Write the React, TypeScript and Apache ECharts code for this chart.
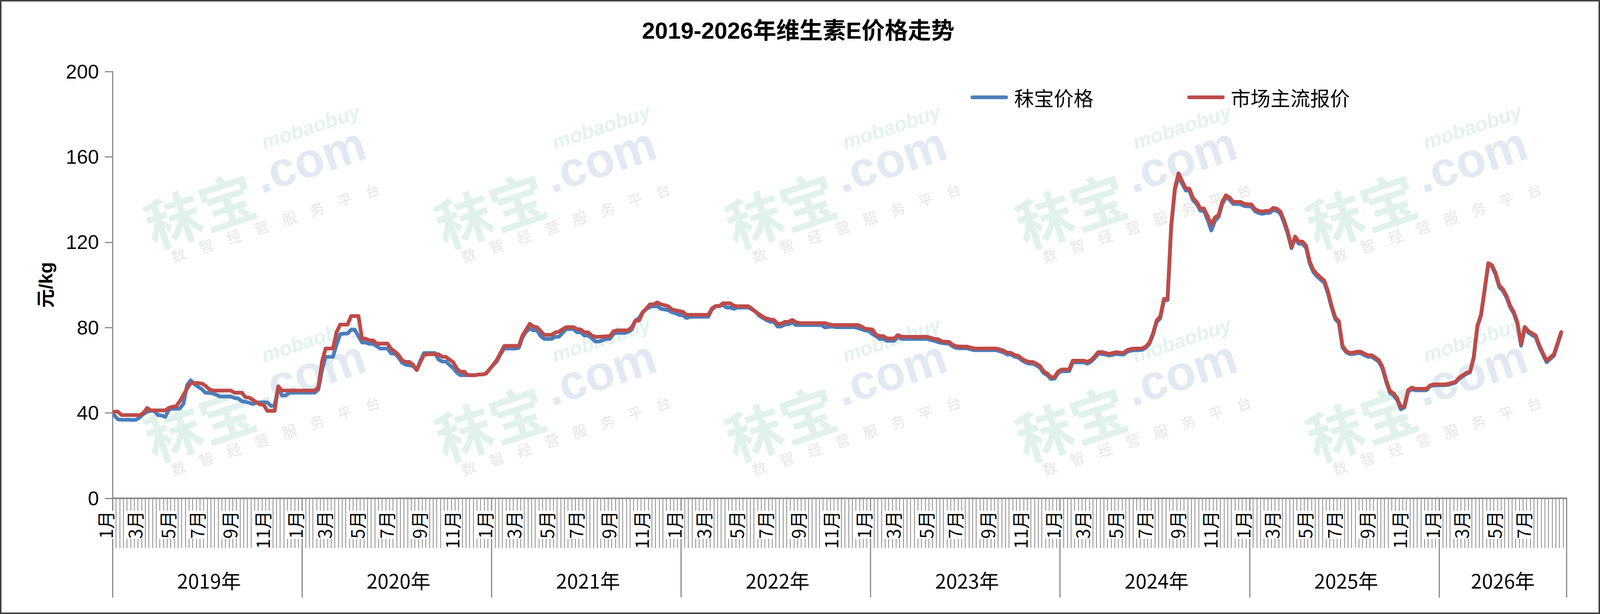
import React, { useEffect, useRef } from 'react';
import * as echarts from 'echarts';

const REF_W = 4270;
const REF_H = 1571;
const FONT = "'Liberation Sans', Arial, 'Noto Sans CJK SC', sans-serif";
const CJK = "'Noto Sans CJK SC', 'Liberation Sans', sans-serif";

const TITLE = '2019-2026年维生素E价格走势';
const Y_NAME = '元/kg';
const SERIES_NAMES = ['秣宝价格', '市场主流报价'];
const YEARS = ['2019年', '2020年', '2021年', '2022年', '2023年', '2024年', '2025年', '2026年'];
const WEEKS_PER_YEAR = [52, 52, 52, 52, 52, 52, 52, 35];
const MONTH_LABELS = ['1月', '3月', '5月', '7月', '9月', '11月'];
const MONTH_LABEL_WEEKS = [0, 8, 17, 25, 34, 43];
const Y_MIN = 0;
const Y_MAX = 200;
const Y_STEP = 40;

// 市场主流报价 (weekly)
const market2019 = [40.6,40.6,39,39,39,39,39,39,40,42.3,41.2,41.2,41.2,41.2,41.2,42.4,42.9,43.2,45.5,48.5,51.5,54,54,54,53.8,52.8,51.2,50.5,50.5,50.5,50.5,50.5,50.5,49.5,49.5,49.5,47.4,47.2,46.2,45,44,43.8,41,41,41,52.5,50.5,50.5,50.5,50.5,50.5,50.5];
const market2020 = [50.5,50.5,50.5,50.5,52,64,70.2,70.2,70.2,77.9,81.4,81.4,81.4,85.4,85.4,85.4,74.8,74.8,74,74,72.5,72.5,72.5,72.5,69.9,68.8,67.2,64.7,63.9,63.9,62.6,60.1,63.8,67.2,67.5,67.5,67.5,67.5,66.3,66.3,65,63.8,60.8,59.2,59.4,57.7,57.7,57.7,58,58,58.5,60.5];
const market2021 = [62.6,65,68.2,71.4,71.4,71.4,71.4,71.4,76.3,79,81.8,80.5,80.2,78.4,76.6,76.6,76.6,77.7,78.1,79.2,80.2,80.2,80.2,79.3,79.1,77.8,77.8,76.3,75.7,75.7,75.8,75.9,76,78.3,78.7,78.7,78.7,78.7,80.2,83.3,83.3,87,89,90.9,90.9,91.8,90.9,90.5,90,88.5,88.1,87.8];
const market2022 = [87.4,86,86,86,86,86,86,86,89,90.1,90.1,91.4,91.4,91.4,90.3,90,90,90,90,88.8,87.3,86.2,85,84.2,83.8,83.6,81.8,81.8,82.7,82.7,83.6,82.6,82.1,82.1,82.1,82.1,82.1,82.1,82.1,82.1,81.6,81.2,81.2,81.2,81.2,81.2,81.2,81.2,81.2,80.5,79.5,79.3];
const market2023 = [79.1,76.7,76,76,74.9,74.9,74.9,76.5,75.7,75.7,75.7,75.7,75.7,75.7,75.7,75.7,75.2,74.7,74.6,73.6,73.4,73.3,72,71.3,71.1,71.1,71.1,70.6,70.2,70.2,70.2,70.2,70.2,70.2,70.2,69.7,69.2,68.2,68.2,67.2,66.8,65.5,64.5,63.9,63.9,63.1,62,59.5,58.5,56.7,56.9,59.5];
const market2024 = [60.4,60.4,60.4,64.5,64.5,64.5,64.5,63.9,64.8,66.5,68.5,68.5,68.1,67.7,68.1,68.5,68.2,68.2,69.5,70,70.2,70.2,70.2,71.1,72.9,77.2,83.3,85.2,93.4,93.7,127.9,145.3,152.3,148.6,145.3,145.1,140.6,138.9,135.8,135.8,132.2,128.2,131.6,132.8,138.9,142,141,138.9,138.9,138.9,138,137.8];
const market2025 = [137.7,135.5,134.7,134.3,134.7,134.7,136.1,135.7,134.3,130,124.8,117.8,122.7,120.3,120.3,118.4,111,107,105,103.5,102,97,90.3,84.8,83,71.5,69,68.1,68.3,68.7,68.7,67.8,67,67,66,64.7,61.4,55.3,50.4,49.2,47,42.5,43.4,50.7,51.9,51.3,51.3,51.3,51.3,52.9,53.4,53.4];
const market2026 = [53.4,53.4,53.6,54.1,54.6,56.5,57.7,58.8,59.5,66.2,80.9,86.1,98,110.2,109.3,105.6,99.8,98,94.9,90.3,87.3,82.4,72.3,80.3,78.4,77.3,76.3,71.7,68,64.5,66,67.5,72.7,77.9,null];

// 秣宝价格 (weekly)
const mobao2019 = [39,37,36.8,36.8,36.8,36.7,36.8,37.9,39.5,40.5,41,41,39,38.8,38.2,41.5,42,42,42.1,44.3,53.1,55.3,53.5,52.3,51.2,49.5,49.4,49.2,48.5,47.7,47.7,47.7,47.7,47,46.8,45.5,45.2,44.8,44.2,44.8,45,45,44.9,43.3,43.5,52,48.2,48.2,49.5,49.5,49.5,49.5];
const mobao2020 = [49.5,49.5,49.5,49.5,51,60,66.3,66.3,66.3,72,76.9,77.2,77.2,79,79,76,73,73,72.4,72.4,71.3,70.2,70.2,70.2,67.8,67.8,66,63.5,62.6,62.3,62,60.1,64.5,68.1,68.1,68.1,68.1,65,64.1,64.1,62.5,61,58.9,57.7,57.7,57.7,57.7,57.7,58,58,58.5,60.5];
const mobao2021 = [62.6,64.2,67.5,70.2,70.2,70.2,70.2,70.5,75.4,78,79.6,78.7,78.7,76,74.7,74.7,74.7,75.7,75.7,77.5,79.3,79.3,79.3,77.8,77.8,76.3,76.3,75,73.5,73.5,74,74.7,74.7,77.2,77.5,77.5,77.5,78,79,83.3,84.5,87.3,88.7,89.7,90,90,88.8,88.5,88.2,87.2,86.7,86];
const mobao2022 = [85.7,84.5,85,85.1,85.1,85.1,85.1,85.1,88.5,90,90,90.6,89.4,89.4,88.8,89.4,89.4,89.4,89.4,88.5,87.5,85.5,84.5,83.5,82.7,82.7,80.5,80.5,81.5,81.5,82.4,81.2,81.2,81.2,81.2,81.2,81.2,81.2,81.2,80.1,80.3,80.5,80.2,80.2,80.2,80.2,80.2,80.2,79.8,79.2,78.7,78.4];
const mobao2023 = [77,76,74.7,74.7,73.8,73.8,73.8,75.7,74.7,74.7,74.7,74.7,74.7,74.7,74.7,74.7,74.2,73.8,73.2,72.8,72.6,72.5,71.2,70.5,70.3,70.3,70.3,69.8,69.4,69.4,69.4,69.4,69.4,69.4,69.4,68.9,68.4,67.4,67.4,66.4,66,64.7,63.7,63.1,63.1,62.3,61.2,58.7,57.7,55.9,56.1,58.7];
const mobao2024 = [59.6,59.6,59.6,63.7,63.7,63.7,63.7,63.1,64,65.7,67.7,67.7,67.3,66.9,67.3,67.7,67.4,67.4,68.7,69.2,69.4,69.4,69.6,70.5,72.3,76.6,82.5,84.4,92.6,92.9,127,144.3,150.8,147.4,144.3,144.1,139.6,137.9,134.8,134.6,130.5,125.5,130,131.8,137.9,141,140,137.9,137.9,137.9,137,136.8];
const mobao2025 = [136.7,134.5,133.7,133.3,133.7,133.7,135.1,134.7,133.3,129,123.8,117.2,121.7,119.3,119.3,117.4,110,106,104,102.5,101,96,89.5,84,82.2,70.7,68.5,67.6,67.6,68,68,67.1,66.3,66.3,65.2,63.9,60.6,54.5,49.4,48.2,46,41.7,42.6,49.9,51.1,50.6,50.6,50.6,50.6,52.4,52.9,53];
const mobao2026 = [53,53,53.2,53.7,54.2,56,57.2,58.3,59,65.6,80.3,85.6,97.4,109.6,108.6,104.8,99,97.2,94.1,89.5,86.6,81.6,71.5,79.5,77.6,76.5,75.5,70.9,67.3,63.8,65.3,66.8,72,77.3,null];

const MARKET = [market2019, market2020, market2021, market2022, market2023, market2024, market2025, market2026];
const MOBAO = [mobao2019, mobao2020, mobao2021, mobao2022, mobao2023, mobao2024, mobao2025, mobao2026];

const BLUE = '#4A7EBB';
const RED = '#BE4B48';
const AXIS_GRAY = '#868686';
const LEGEND_ICON = 'path://M5,0 L95,0 A5,5 0 0 1 95,10 L5,10 A5,5 0 0 1 5,0 Z';

// watermark layout (decoration), in reference pixels
const WM_X = [690, 1465, 2240, 3015, 3790];
const WM_Y = [470, 1015];

function getViewport() {
  const w = window.innerWidth || document.documentElement.clientWidth || REF_W;
  const h = window.innerHeight || document.documentElement.clientHeight || REF_H;
  return { w, h };
}

export default function App() {
  const ref = useRef<HTMLDivElement>(null);
  const vp = getViewport();

  useEffect(() => {
    if (!ref.current) return;
    const { w: VW, h: VH } = getViewport();
    const sx = VW / REF_W;
    const sy = VH / REF_H;
    const s = Math.min(sx, sy);
    const X = (v: number) => v * sx;
    const Y = (v: number) => v * sy;
    const S = (v: number) => v * s;

    const chart = echarts.init(ref.current, null, { renderer: 'svg', width: VW, height: VH });

    const categories: string[] = [];
    const monthLabelAt: Record<number, string> = {};
    const yearLabelAt: Record<number, string> = {};
    const yearStartAt: Record<number, boolean> = {};
    const market: (number | null)[] = [];
    const mobao: (number | null)[] = [];
    let idx = 0;
    YEARS.forEach((y, yi) => {
      const n = WEEKS_PER_YEAR[yi];
      yearStartAt[idx] = true;
      yearLabelAt[idx + Math.floor(n / 2)] = y;
      MONTH_LABEL_WEEKS.forEach((w, mi) => {
        if (w < n && MARKET[yi][w] != null) monthLabelAt[idx + w] = MONTH_LABELS[mi];
      });
      for (let k = 0; k < n; k++) {
        categories.push(`${y}第${k + 1}周`);
        market.push(MARKET[yi][k]);
        mobao.push(MOBAO[yi][k]);
      }
      idx += n;
    });

    const txt = (extra: any) => ({ align: 'center', verticalAlign: 'middle', textAlign: 'center', textVerticalAlign: 'middle', ...extra });

    const watermark = (cx: number, cy: number) => ({
      type: 'group',
      x: X(cx),
      y: Y(cy),
      rotation: 0.32,
      silent: true,
      z: -10,
      children: [
        { type: 'text', x: S(-170), y: S(12), style: txt({ text: '秣宝', font: `bold ${S(150)}px ${CJK}`, fill: '#e1f2ed' }) },
        { type: 'text', x: S(150), y: S(-18), style: txt({ text: '.com', font: `bold ${S(130)}px ${FONT}`, fill: '#e2e9f2' }) },
        { type: 'text', x: S(180), y: S(-100), style: txt({ text: 'mobaobuy', font: `bold italic ${S(54)}px ${FONT}`, fill: '#e3f3ee' }) },
        { type: 'text', x: S(10), y: S(112), style: txt({ text: '数　智　经　营　服　务　平　台', font: `${S(39)}px ${CJK}`, fill: '#e6e6e6' }) },
      ],
    });

    const graphics: any[] = [];
    WM_Y.forEach((yy) => WM_X.forEach((xx) => graphics.push(watermark(xx, yy))));
    graphics.push({
      type: 'text',
      x: X(122),
      y: Y(729),
      rotation: Math.PI / 2,
      silent: true,
      style: txt({ text: Y_NAME, font: `bold ${S(50)}px ${FONT}`, fill: '#000' }),
    });
    graphics.push({
      type: 'rect',
      silent: true,
      z: 100,
      shape: { x: S(2), y: S(2), width: VW - S(4), height: VH - S(4) },
      style: { fill: 'none', stroke: '#404040', lineWidth: S(4) },
    });

    const option: any = {
      animation: false,
      backgroundColor: '#ffffff',
      title: {
        text: TITLE,
        left: X(2125),
        top: Y(44),
        textAlign: 'center',
        textStyle: { fontSize: S(62), fontWeight: 'bold', color: '#000', fontFamily: FONT },
      },
      legend: {
        data: SERIES_NAMES,
        left: X(2585),
        top: Y(244) - S(26.5),
        icon: LEGEND_ICON,
        itemWidth: S(100),
        itemHeight: S(10),
        itemGap: X(250),
        textStyle: { fontSize: S(53), color: '#000', fontFamily: CJK, padding: [0, 0, 0, S(11)], lineHeight: S(53) },
      },
      grid: { left: X(300), right: VW - X(4181), top: Y(183), bottom: VH - Y(1275), containLabel: false, outerBoundsMode: 'none' },
      xAxis: [
        {
          type: 'category',
          data: categories,
          boundaryGap: true,
          position: 'bottom',
          axisLine: { show: true, lineStyle: { color: AXIS_GRAY, width: S(4) } },
          axisTick: { show: true, interval: 0, length: Y(127), lineStyle: { color: AXIS_GRAY, width: S(2) } },
          axisLabel: {
            show: true,
            interval: (i: number) => monthLabelAt[i] !== undefined,
            formatter: (_v: string, i: number) => monthLabelAt[i] ?? '',
            rotate: 90,
            margin: Y(32),
            fontSize: S(48),
            color: '#000',
            fontFamily: CJK,
            align: 'right',
            verticalAlign: 'bottom',
            backgroundColor: '#ffffff',
          },
          splitLine: { show: false },
        },
        {
          type: 'category',
          data: categories,
          boundaryGap: true,
          position: 'bottom',
          offset: 0,
          axisLine: { show: false },
          axisTick: { show: true, interval: (i: number) => !!yearStartAt[i], length: Y(254), lineStyle: { color: AXIS_GRAY, width: S(3) } },
          axisLabel: {
            show: true,
            interval: (i: number) => yearLabelAt[i] !== undefined,
            formatter: (_v: string, i: number) => yearLabelAt[i] ?? '',
            margin: Y(1484 - 1275) - S(26.5),
            fontSize: S(53),
            color: '#000',
            fontFamily: CJK,
          },
          splitLine: { show: false },
        },
      ],
      yAxis: {
        type: 'value',
        min: Y_MIN,
        max: Y_MAX,
        interval: Y_STEP,
        axisLine: { show: true, lineStyle: { color: AXIS_GRAY, width: S(3) } },
        axisTick: { show: true, inside: false, length: X(20), lineStyle: { color: AXIS_GRAY, width: S(3) } },
        axisLabel: { margin: X(36), fontSize: S(53), color: '#000', fontFamily: FONT },
        splitLine: { show: false },
      },
      series: [
        {
          name: SERIES_NAMES[0],
          type: 'line',
          xAxisIndex: 0,
          data: mobao,
          symbol: 'none',
          silent: true,
          color: BLUE,
          lineStyle: { color: BLUE, width: S(10), join: 'round', cap: 'round' },
          itemStyle: { color: BLUE },
          z: 3,
        },
        {
          name: SERIES_NAMES[1],
          type: 'line',
          xAxisIndex: 0,
          data: market,
          symbol: 'none',
          silent: true,
          color: RED,
          lineStyle: { color: RED, width: S(10), join: 'round', cap: 'round' },
          itemStyle: { color: RED },
          z: 4,
        },
      ],
      graphic: graphics,
    };

    chart.setOption(option);
    return () => chart.dispose();
  }, []);

  return (
    <div
      ref={ref}
      style={{ position: 'absolute', left: 0, top: 0, width: vp.w, height: vp.h, overflow: 'hidden', background: '#fff' }}
    />
  );
}
